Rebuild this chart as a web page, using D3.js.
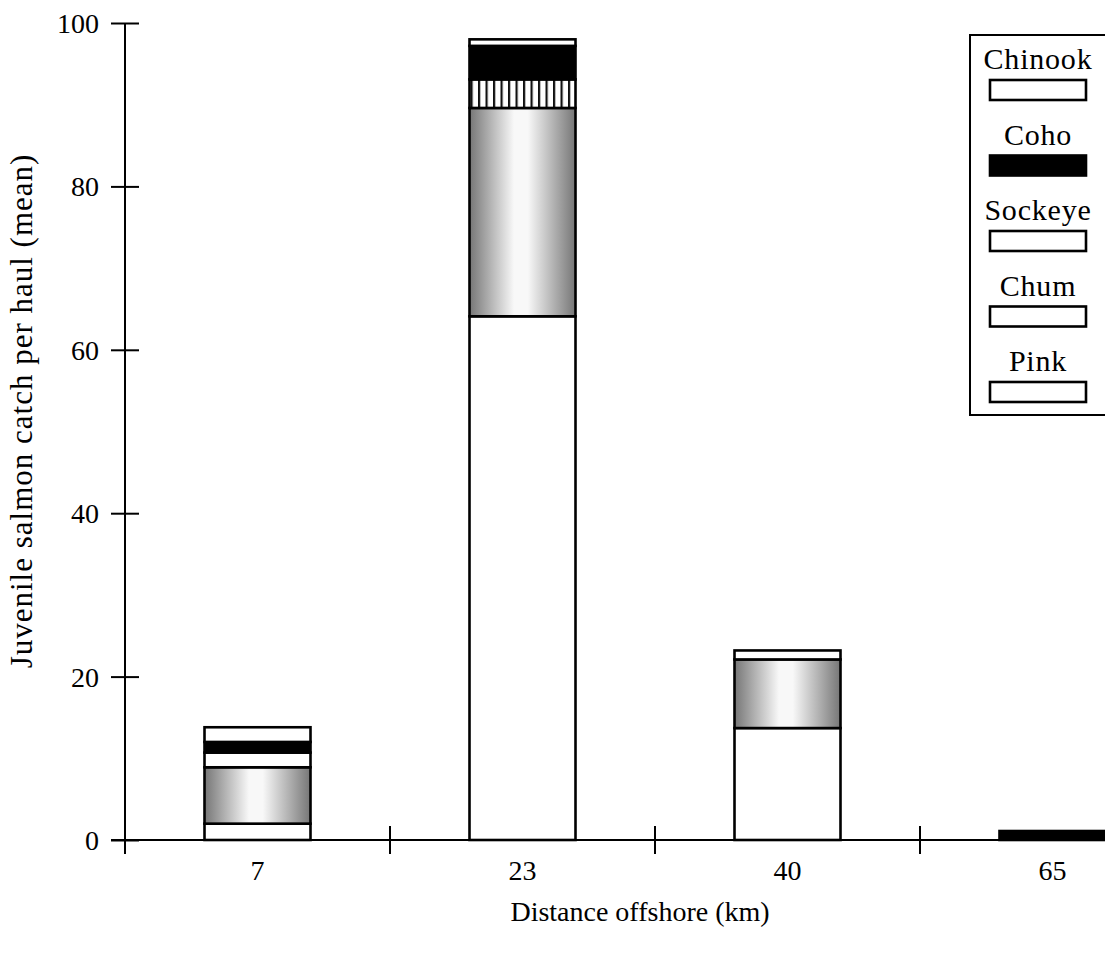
<!DOCTYPE html>
<html>
<head>
<meta charset="utf-8">
<script src="https://cdn.jsdelivr.net/npm/d3@7"></script>
<style>
  html, body { margin: 0; padding: 0; background: #fff; }
  svg { display: block; }
  text { font-family: "Liberation Serif", "Times New Roman", serif; fill: #000; }
</style>
</head>
<body>
<svg id="chart" width="1105" height="958"></svg>
<script>
// Distance offshore (km) of each sampling station
const categories = ["7", "23", "40", "65"];
// Mean catch per haul by species, stacked bottom-up
const pink    = [2.0, 64.1, 13.7, 0];
const chum    = [6.9, 25.5, 8.4, 0];
const sockeye = [1.8, 3.5, 0, 0];
const coho    = [1.3, 4.1, 0, 1.1];
const chinook = [1.8, 0.8, 1.1, 0];
const stackOrder = ["Pink", "Chum", "Sockeye", "Coho", "Chinook"];
const legendOrder = ["Chinook", "Coho", "Sockeye", "Chum", "Pink"];
const yTicks = [0, 20, 40, 60, 80, 100];
// stations where the sockeye segment is drawn without hatching
const plainSockeye = ["7"];

const seriesValues = { Pink: pink, Chum: chum, Sockeye: sockeye, Coho: coho, Chinook: chinook };
const rows = categories.map((c, i) => {
  const r = { dist: c };
  stackOrder.forEach(k => r[k] = seriesValues[k][i]);
  return r;
});

const svg = d3.select("#chart");
const font = 28;

const x = d3.scaleBand().domain(categories).range([125, 1185])
  .paddingInner(0.6).paddingOuter(0.3);
const y = d3.scaleLinear().domain([0, 100]).range([840, 23]);

const defs = svg.append("defs");
const grad = defs.append("linearGradient").attr("id", "chumGrad")
  .attr("x1", "0").attr("x2", "1").attr("y1", "0").attr("y2", "0");
[[0, "#767676"], [0.42, "#f8f8f8"], [0.55, "#f8f8f8"], [1, "#767676"]]
  .forEach(([o, c]) => grad.append("stop").attr("offset", o).attr("stop-color", c));

categories.forEach(c => {
  const p = defs.append("pattern").attr("id", "stripes" + c)
    .attr("patternUnits", "userSpaceOnUse")
    .attr("x", x(c) + 1).attr("y", 0)
    .attr("width", 7.5).attr("height", 10);
  p.append("rect").attr("width", 7.5).attr("height", 10).attr("fill", "#fff");
  p.append("rect").attr("x", 0).attr("width", 2.2).attr("height", 10).attr("fill", "#111");
});

function fillFor(key, cat) {
  if (key === "Chum") return "url(#chumGrad)";
  if (key === "Coho") return "#000";
  if (key === "Sockeye") return plainSockeye.includes(cat) ? "#fff" : "url(#stripes" + cat + ")";
  return "#fff";
}

// axes
const yAxis = d3.axisLeft(y).tickValues(yTicks).tickSize(14).tickPadding(12);
const gy = svg.append("g").attr("transform", "translate(125,0)").call(yAxis);
gy.select(".domain").remove();
gy.selectAll(".tick line").attr("x1", -14).attr("x2", 14).attr("stroke", "#000").attr("stroke-width", 2);
gy.selectAll(".tick text").style("font-size", font + "px").attr("dy", "0.34em");
svg.append("line").attr("x1", 125).attr("x2", 125).attr("y1", y(100)).attr("y2", 854)
  .attr("stroke", "#000").attr("stroke-width", 2);

svg.append("line").attr("x1", 111).attr("x2", 1105).attr("y1", y(0)).attr("y2", y(0))
  .attr("stroke", "#000").attr("stroke-width", 2);
const xAxis = d3.axisBottom(x).tickSize(0).tickPadding(20);
const gx = svg.append("g").attr("transform", `translate(0,${y(0)})`).call(xAxis);
gx.select(".domain").remove();
gx.selectAll(".tick text").style("font-size", font + "px").attr("dy", "0.71em");
// boundary ticks between stations
const step = x.step();
categories.slice(0, -1).forEach(c => {
  const bx = x(c) + x.bandwidth() / 2 + step / 2;
  svg.append("line").attr("x1", bx).attr("x2", bx).attr("y1", y(0) - 14).attr("y2", y(0) + 14)
    .attr("stroke", "#000").attr("stroke-width", 2);
});

// stacked bars
const stack = d3.stack().keys(stackOrder)(rows);
stack.forEach(layer => {
  svg.append("g").selectAll("rect").data(layer.filter(d => d[1] - d[0] > 0)).join("rect")
    .attr("x", d => x(d.data.dist))
    .attr("width", x.bandwidth())
    .attr("y", d => y(d[1]))
    .attr("height", d => y(d[0]) - y(d[1]))
    .attr("fill", d => fillFor(layer.key, d.data.dist))
    .attr("stroke", "#000")
    .attr("stroke-width", 2.6);
});

// axis titles
svg.append("text").attr("x", 640).attr("y", 921).attr("text-anchor", "middle")
  .style("font-size", font + "px").text("Distance offshore (km)");
svg.append("text").attr("transform", "translate(32,411) rotate(-90)").attr("text-anchor", "middle")
  .style("font-size", "31px").style("letter-spacing", "1px")
  .text("Juvenile salmon catch per haul (mean)");

// legend
const lg = svg.append("g");
lg.append("rect").attr("x", 970).attr("y", 35).attr("width", 140).attr("height", 380)
  .attr("fill", "#fff").attr("stroke", "#000").attr("stroke-width", 2);
legendOrder.forEach((k, i) => {
  const top = 80 + i * 75.5;
  lg.append("text").attr("x", 1038).attr("y", top - 11).attr("text-anchor", "middle")
    .style("font-size", "30px").style("letter-spacing", "0.8px").text(k);
  lg.append("rect").attr("x", 990).attr("y", top).attr("width", 96).attr("height", 20)
    .attr("fill", k === "Coho" ? "#000" : "#fff").attr("stroke", "#000").attr("stroke-width", 2.6);
});
</script>
</body>
</html>
